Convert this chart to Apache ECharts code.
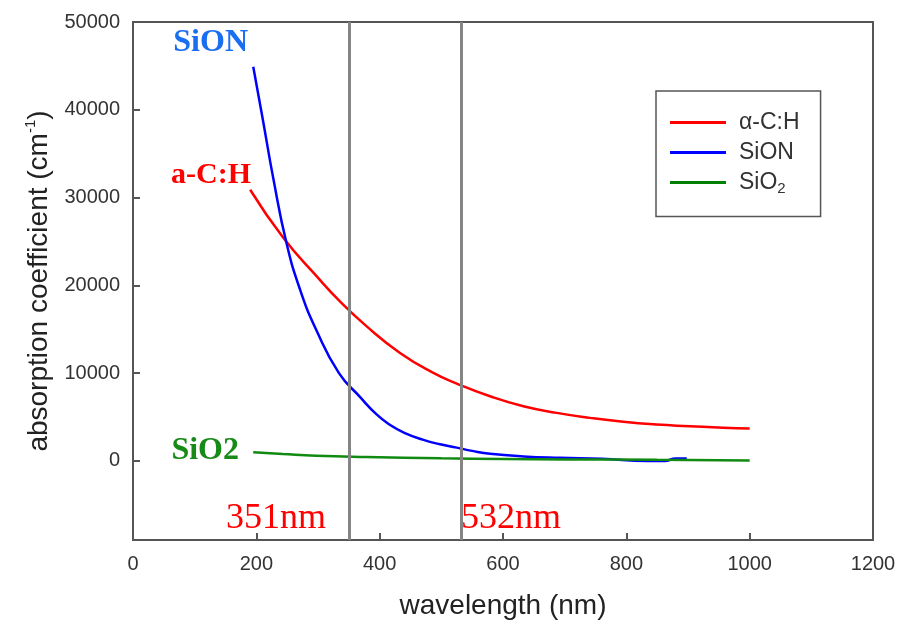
<!DOCTYPE html>
<html>
<head>
<meta charset="utf-8">
<script src="https://cdn.jsdelivr.net/npm/echarts@6/dist/echarts.min.js"></script>
<style>
  html, body { margin: 0; padding: 0; background: #ffffff; }
  #chart { width: 900px; height: 630px; }
</style>
</head>
<body>
<div id="chart"></div>
<script>
// Absorption coefficient (cm^-1) versus wavelength (nm) for three films
const achWavelength  = [190, 244, 298, 334, 379, 433, 487, 525, 579, 633, 687, 741, 795, 849, 903, 957, 1000];
const achAbsorption  = [30890, 25390, 21020, 18290, 15330, 12310, 10030, 8820, 7370, 6230, 5480, 4910, 4460, 4150, 3960, 3780, 3700];

const sionWavelength = [195, 210, 228, 249, 271, 298, 334, 368, 395, 417, 440, 471, 498, 525, 550, 579, 633, 692, 760, 835, 862, 880, 898];
const sionAbsorption = [44900, 39100, 32000, 24800, 19500, 14800, 10000, 7300, 5300, 4100, 3200, 2400, 1900, 1520, 1150, 820, 520, 360, 250, 0, 0, 280, 280];

const sio2Wavelength = [195, 243, 297, 378, 500, 600, 700, 850, 1000];
const sio2Absorption = [1000, 800, 600, 450, 300, 230, 170, 150, 60];

// Laser wavelengths marked by vertical lines
const laserLines  = [351, 532];
const laserLabels = ['351nm', '532nm'];

const xTicks = [0, 200, 400, 600, 800, 1000, 1200];
const yTicks = [0, 10000, 20000, 30000, 40000, 50000];

const seriesNames = ['α-C:H', 'SiON', 'SiO2'];

const pairs = (xs, ys) => xs.map((x, i) => [x, ys[i]]);

const SANS = '"Liberation Sans", Arial, sans-serif';
const SERIF = '"Liberation Serif", "Times New Roman", serif';
const AXIS = '#555555';

const chart = echarts.init(document.getElementById('chart'));

chart.setOption({
  backgroundColor: '#ffffff',
  animation: false,
  grid: {
    left: 133, right: 27, top: 22, bottom: 90,
    show: true, borderColor: AXIS, borderWidth: 2, backgroundColor: 'transparent'
  },
  xAxis: {
    type: 'value', min: 0, max: 1200, interval: 200,
    axisLine: { show: true, onZero: false, lineStyle: { color: AXIS, width: 2 } },
    axisTick: { show: true, inside: true, length: 7, customValues: xTicks, lineStyle: { color: AXIS, width: 2 } },
    axisLabel: { customValues: xTicks, formatter: (v) => String(v), fontFamily: SANS, fontSize: 20, color: '#333', margin: 14 },
    splitLine: { show: false },
    name: 'wavelength (nm)', nameLocation: 'middle', nameGap: 52,
    nameTextStyle: { fontFamily: SANS, fontSize: 28, color: '#222' }
  },
  yAxis: {
    type: 'value', min: -9000, max: 50000,
    axisLine: { show: true, onZero: false, lineStyle: { color: AXIS, width: 2 } },
    axisTick: { show: true, inside: true, length: 7, customValues: yTicks, lineStyle: { color: AXIS, width: 2 } },
    axisLabel: { customValues: yTicks, formatter: (v) => String(v), fontFamily: SANS, fontSize: 20, color: '#333', margin: 13 },
    splitLine: { show: false },
    name: '{t|absorption coefficient (cm}{s|-1}{t|)}',
    nameLocation: 'middle', nameGap: 70,
    nameTextStyle: {
      fontFamily: SANS, fontSize: 28, color: '#222',
      rich: {
        t: { fontFamily: SANS, fontSize: 28, color: '#222', lineHeight: 32 },
        s: { fontFamily: SANS, fontSize: 15, color: '#222', verticalAlign: 'top', lineHeight: 32 }
      }
    }
  },
  legend: {
    data: seriesNames,
    orient: 'vertical',
    left: 656, top: 91,
    padding: [20, 21, 20, 14],
    itemWidth: 56, itemHeight: 3, itemGap: 7,
    icon: 'rect',
    borderColor: AXIS, borderWidth: 1.5,
    formatter: (name) => name === 'SiO2' ? '{b|SiO}{u|2}' : '{b|' + name + '}',
    textStyle: {
      fontFamily: SANS, fontSize: 23, color: '#333', padding: [0, 0, 0, 8],
      rich: {
        b: { fontFamily: SANS, fontSize: 23, color: '#333', lineHeight: 20 },
        u: { fontFamily: SANS, fontSize: 15, color: '#333', verticalAlign: 'bottom', lineHeight: 28 }
      }
    }
  },
  series: [
    {
      name: 'laser', type: 'line', data: [], silent: true, z: 1,
      markLine: {
        silent: true, symbol: 'none', animation: false,
        label: { show: false },
        lineStyle: { color: '#858585', width: 3, type: 'solid' },
        data: laserLines.map((v) => ({ xAxis: v }))
      }
    },
    {
      name: seriesNames[0], type: 'line', data: pairs(achWavelength, achAbsorption),
      smooth: 0.5, symbol: 'none', color: '#ff0000', z: 3,
      lineStyle: { color: '#ff0000', width: 2.5 }
    },
    {
      name: seriesNames[1], type: 'line', data: pairs(sionWavelength, sionAbsorption),
      smooth: 0.5, symbol: 'none', color: '#0000ff', z: 3,
      lineStyle: { color: '#0000ff', width: 2.5 }
    },
    {
      name: seriesNames[2], type: 'line', data: pairs(sio2Wavelength, sio2Absorption),
      smooth: 0.5, symbol: 'none', color: '#008000', z: 3,
      lineStyle: { color: '#108a10', width: 2.5 }
    }
  ],
  graphic: [
    { type: 'text', x: 248, y: 43, style: { text: 'SiON', align: 'right', verticalAlign: 'middle', font: 'bold 32px ' + SERIF, fill: '#1a6ef2' } },
    { type: 'text', x: 251, y: 175, style: { text: 'a-C:H', align: 'right', verticalAlign: 'middle', font: 'bold 30px ' + SERIF, fill: '#ff0000' } },
    { type: 'text', x: 239, y: 451, style: { text: 'SiO2', align: 'right', verticalAlign: 'middle', font: 'bold 32px ' + SERIF, fill: '#178a17' } },
    { type: 'text', x: 326, y: 519, style: { text: laserLabels[0], align: 'right', verticalAlign: 'middle', font: '36px ' + SERIF, fill: '#ff0000' } },
    { type: 'text', x: 461, y: 519, style: { text: laserLabels[1], align: 'left', verticalAlign: 'middle', font: '36px ' + SERIF, fill: '#ff0000' } }
  ]
});
</script>
</body>
</html>
